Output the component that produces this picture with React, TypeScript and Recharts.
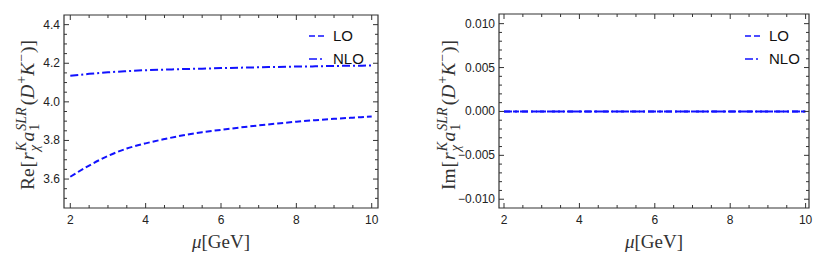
import { LineChart, Line, XAxis, YAxis, ReferenceArea, Legend } from 'recharts'

// renormalisation scale mu [GeV]
const MU = [2, 2.5, 3, 3.5, 4, 4.5, 5, 5.5, 6, 6.5, 7, 7.5, 8, 8.5, 9, 9.5, 10]

// Re part
const RE_LO = [3.612, 3.67, 3.72, 3.758, 3.785, 3.807, 3.827, 3.843, 3.855, 3.867, 3.878, 3.888, 3.897, 3.905, 3.912, 3.918, 3.924]
const RE_NLO = [4.135, 4.145, 4.153, 4.159, 4.164, 4.167, 4.17, 4.172, 4.175, 4.177, 4.179, 4.181, 4.183, 4.184, 4.186, 4.187, 4.188]

// Im part, flat zero in the right panel
const IM_LO = [0, 0, 0, 0, 0, 0, 0, 0, 0, 0, 0, 0, 0, 0, 0, 0, 0]
const IM_NLO = [0, 0, 0, 0, 0, 0, 0, 0, 0, 0, 0, 0, 0, 0, 0, 0, 0]

const X_TICKS = [2, 2.5, 3, 3.5, 4, 4.5, 5, 5.5, 6, 6.5, 7, 7.5, 8, 8.5, 9, 9.5, 10]
const X_MAJOR = [2, 4, 6, 8, 10]
const X_LABELS = ['2', '4', '6', '8', '10']

const RE_TICKS = [3.5, 3.55, 3.6, 3.65, 3.7, 3.75, 3.8, 3.85, 3.9, 3.95, 4.0, 4.05, 4.1, 4.15, 4.2, 4.25, 4.3, 4.35, 4.4]
const RE_MAJOR = [3.6, 3.8, 4.0, 4.2, 4.4]
const RE_LABELS = ['3.6', '3.8', '4.0', '4.2', '4.4']

const IM_TICKS = [-0.01, -0.009, -0.008, -0.007, -0.006, -0.005, -0.004, -0.003, -0.002, -0.001, 0, 0.001, 0.002, 0.003, 0.004, 0.005, 0.006, 0.007, 0.008, 0.009, 0.01]
const IM_MAJOR = [-0.01, -0.005, 0, 0.005, 0.01]
const IM_LABELS = ['\u22120.010', '\u22120.005', '0.000', '0.005', '0.010']

const BLUE = '#1212ff'
const FRAME = '#333'
const TICK_FONT = { fontFamily: 'Liberation Sans, Arial, sans-serif', fontSize: 12, fill: '#222' }
const DASH: Record<string, string> = { lo: '6 3', nlo: '8 3 2 3' }
const NAMES: Record<string, string> = { lo: 'LO', nlo: 'NLO' }

const findMajor = (v: number, majors: number[]) => majors.findIndex((m) => Math.abs(m - v) < 1e-9)

function makeXTick(top: number) {
  return (props: any) => {
    const { x, y, payload } = props
    const idx = findMajor(payload.value, X_MAJOR)
    const len = idx >= 0 ? 5 : 3
    return (
      <g>
        <line x1={x} x2={x} y1={y} y2={y - len} stroke={FRAME} />
        <line x1={x} x2={x} y1={top} y2={top + len} stroke={FRAME} />
        {idx >= 0 && (
          <text x={x} y={y + 16} textAnchor="middle" {...TICK_FONT}>
            {X_LABELS[idx]}
          </text>
        )}
      </g>
    )
  }
}

function makeYTick(right: number, majors: number[], labels: string[]) {
  return (props: any) => {
    const { x, y, payload } = props
    const idx = findMajor(payload.value, majors)
    const len = idx >= 0 ? 5 : 3
    return (
      <g>
        <line x1={x} x2={x + len} y1={y} y2={y} stroke={FRAME} />
        <line x1={right} x2={right - len} y1={y} y2={y} stroke={FRAME} />
        {idx >= 0 && (
          <text x={x - 4} y={y + 4} textAnchor="end" {...TICK_FONT}>
            {labels[idx]}
          </text>
        )}
      </g>
    )
  }
}

// Re[r_chi^K a_1^SLR (D^+ K^-)] written out with tspans, rotated
function YLabel({ cx, cy, prefix }: { cx: number; cy: number; prefix: string }) {
  return (
    <g transform={`translate(${cx},${cy}) rotate(-90)`}>
      <text x={0} y={0} textAnchor="middle" fontFamily="Liberation Serif, serif" fontSize={19.5} fill="#333">
        <tspan>{prefix}</tspan>
        <tspan dx={1}>[</tspan>
        <tspan fontStyle="italic" dx={1}>r</tspan>
        <tspan fontStyle="italic" fontSize={14} dx={1} dy={-8}>K</tspan>
        <tspan fontStyle="italic" fontSize={14} dx={-9.3} dy={12.5}>χ</tspan>
        <tspan fontStyle="italic" dx={3.5} dy={-4.5}>a</tspan>
        <tspan fontStyle="italic" fontSize={14} dx={1} dy={-8}>SLR</tspan>
        <tspan fontSize={14} dx={-23.3} dy={12.5}>1</tspan>
        <tspan dx={18.5} dy={-4.5}>(</tspan>
        <tspan fontStyle="italic">D</tspan>
        <tspan fontSize={14} dx={1} dy={-8}>+</tspan>
        <tspan fontStyle="italic" dy={8}>K</tspan>
        <tspan fontSize={14} dx={1} dy={-8}>−</tspan>
        <tspan dx={1} dy={8}>)]</tspan>
      </text>
    </g>
  )
}

function XLabel(props: any) {
  const { viewBox } = props
  const cx = viewBox.x + viewBox.width / 2
  return (
    <text x={cx} y={viewBox.y + 40} textAnchor="middle" fontFamily="Liberation Serif, serif" fontSize={19} fill="#333">
      <tspan fontStyle="italic">μ</tspan>
      <tspan>[GeV]</tspan>
    </text>
  )
}

function LegendBox(props: any) {
  const { payload } = props
  return (
    <div style={{ display: 'flex', flexDirection: 'column' }}>
      {payload.map((entry: any) => (
        <div key={entry.dataKey} style={{ display: 'flex', alignItems: 'center', height: 23 }}>
          <svg width={15} height={6}>
            <line x1={0} x2={15} y1={3} y2={3} stroke={BLUE} strokeWidth={1.6} strokeDasharray={DASH[entry.dataKey]} />
          </svg>
          <span style={{ marginLeft: 9, fontFamily: 'Liberation Sans, Arial, sans-serif', fontSize: 15, color: '#111' }}>
            {NAMES[entry.dataKey]}
          </span>
        </div>
      ))}
    </div>
  )
}

interface PanelProps {
  lo: number[]
  nlo: number[]
  yDomain: [number, number]
  xDomain: [number, number]
  yTicks: number[]
  yMajor: number[]
  yLabels: string[]
  yAxisWidth: number
  marginRight: number
  marginTop: number
  labelX: number
  prefix: string
  legendLeft: number
}

const W = 411
const H = 268

function Panel(p: PanelProps) {
  const data = MU.map((mu, i) => ({ mu, lo: p.lo[i], nlo: p.nlo[i] }))
  const plotRight = W - p.marginRight
  return (
    <LineChart width={W} height={H} data={data} margin={{ top: p.marginTop, right: p.marginRight, bottom: 30, left: 0 }}>
      <ReferenceArea
        x1={p.xDomain[0]}
        x2={p.xDomain[1]}
        y1={p.yDomain[0]}
        y2={p.yDomain[1]}
        fill="none"
        stroke={FRAME}
        strokeWidth={1.2}
      />
      <XAxis
        dataKey="mu"
        type="number"
        domain={p.xDomain}
        ticks={X_TICKS}
        interval={0}
        height={30}
        axisLine={false}
        tickLine={false}
        tickSize={0}
        tickMargin={0}
        tick={makeXTick(p.marginTop)}
        label={{ content: XLabel }}
      />
      <YAxis
        type="number"
        domain={p.yDomain}
        ticks={p.yTicks}
        interval={0}
        width={p.yAxisWidth}
        axisLine={false}
        tickLine={false}
        tickSize={0}
        tickMargin={0}
        tick={makeYTick(plotRight, p.yMajor, p.yLabels)}
        label={{ content: () => <YLabel cx={p.labelX} cy={115} prefix={p.prefix} /> }}
      />
      <Legend
        layout="vertical"
        align="center"
        verticalAlign="middle"
        content={LegendBox}
        wrapperStyle={{ left: p.legendLeft, top: 24, width: 90, height: 46 }}
      />
      <Line
        dataKey="lo"
        name="LO"
        type="monotone"
        stroke={BLUE}
        strokeWidth={2}
        strokeDasharray={DASH.lo}
        dot={false}
        isAnimationActive={false}
      />
      <Line
        dataKey="nlo"
        name="NLO"
        type="monotone"
        stroke={BLUE}
        strokeWidth={2}
        strokeDasharray={DASH.nlo}
        dot={false}
        isAnimationActive={false}
      />
    </LineChart>
  )
}

export default function App() {
  return (
    <div style={{ position: 'absolute', left: 0, top: 0, width: 822, height: 268, background: '#fff' }}>
      <div style={{ position: 'absolute', left: 0, top: 0 }}>
        <Panel
          lo={RE_LO}
          nlo={RE_NLO}
          xDomain={[1.833, 10.167]}
          yDomain={[3.45, 4.45]}
          yTicks={RE_TICKS}
          yMajor={RE_MAJOR}
          yLabels={RE_LABELS}
          yAxisWidth={64}
          marginRight={33}
          marginTop={15}
          labelX={34}
          prefix="Re"
          legendLeft={309}
        />
      </div>
      <div style={{ position: 'absolute', left: 411, top: 0 }}>
        <Panel
          lo={IM_LO}
          nlo={IM_NLO}
          xDomain={[1.867, 10.09]}
          yDomain={[-0.011, 0.0111]}
          yTicks={IM_TICKS}
          yMajor={IM_MAJOR}
          yLabels={IM_LABELS}
          yAxisWidth={88}
          marginRight={13}
          marginTop={14}
          labelX={44}
          prefix="Im"
          legendLeft={334}
        />
      </div>
    </div>
  )
}
